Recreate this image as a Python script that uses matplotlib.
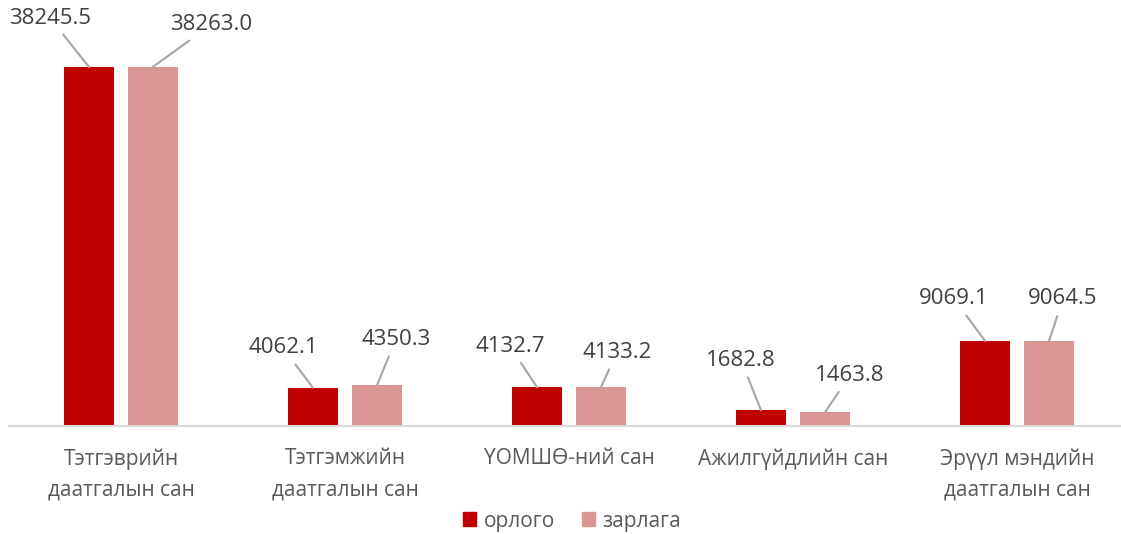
import numpy as np
import matplotlib.pyplot as plt
from matplotlib.patches import Patch

plt.rcParams['font.family'] = ['Open Sans', 'DejaVu Sans']

categories = ["Тэтгэврийн\nдаатгалын сан", "Тэтгэмжийн\nдаатгалын сан", "ҮОМШӨ-ний сан",
              "Ажилгүйдлийн сан", "Эрүүл мэндийн\nдаатгалын сан"]
orlogo = [38245.5, 4062.1, 4132.7, 1682.8, 9069.1]
zarlaga = [38263.0, 4350.3, 4133.2, 1463.8, 9064.5]
series_names = ["орлого", "зарлага"]

dark = "#C00000"
light = "#DA9694"

# label offsets (pixels) from the bar top, as placed in the reference
off_a = [(-39, 49), (-30, 40), (-27, 41), (-20, 50), (-31, 42)]
off_b = [(58, 42), (19, 46), (16, 35), (25, 37), (14, 42)]

W, H = 1121, 534
fig = plt.figure(figsize=(W / 100, H / 100), dpi=100)
ax = fig.add_axes([9 / W, 108 / H, 1112 / W, 426 / H])

x = np.arange(len(categories))
bw = 50 / 224
sh = 32 / 224
bars_a = ax.bar(x - sh, orlogo, bw, color=dark, zorder=2)
bars_b = ax.bar(x + sh, zarlaga, bw, color=light, zorder=2)

ax.set_xlim(-0.5, 4.5 - 8 / 224)
ax.set_ylim(0, 38245.5 * 426 / 359)

for bars, vals, offs in [(bars_a, orlogo, off_a), (bars_b, zarlaga, off_b)]:
    for b, v, (dx, dy) in zip(bars, vals, offs):
        ax.annotate(f"{v:.1f}", (b.get_x() + b.get_width() / 2, v),
                    xytext=(dx, dy), textcoords="offset pixels",
                    ha="center", va="center", fontsize=16, color="#404040",
                    arrowprops=dict(arrowstyle="-", color="#A6A6A6", lw=1.5,
                                    shrinkA=3, shrinkB=0),
                    annotation_clip=False)

for s in ["top", "right", "left"]:
    ax.spines[s].set_visible(False)
ax.spines["bottom"].set_color("#D9D9D9")
ax.spines["bottom"].set_linewidth(1.5)
ax.set_yticks([])
ax.set_xticks(x)
ax.set_xticklabels(categories, fontsize=15, color="#595959", linespacing=1.62)
ax.tick_params(axis="x", length=0, pad=16)

handles = [Patch(color=dark), Patch(color=light)]
fig.legend(handles, series_names, loc="center", bbox_to_anchor=(572 / W, 1 - 521 / H),
           ncol=2, frameon=False, fontsize=15, labelcolor="#595959",
           handlelength=0.65, handleheight=0.65, handletextpad=0.35, columnspacing=1.3)

fig.savefig("out.png", dpi=100)
